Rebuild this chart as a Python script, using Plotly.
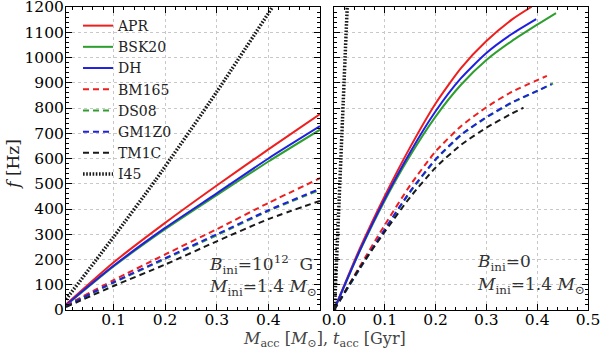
import plotly.graph_objects as go

# left panel: B_ini = 1e12 G, f vs accreted mass
m_acc = [0.008, 0.1, 0.2, 0.3, 0.4, 0.5]
left_apr = [22, 188, 345, 493, 636, 776]
left_bsk20 = [18, 172, 320, 455, 588, 714]
left_dh = [20, 175, 325, 462, 600, 728]
left_bm165 = [18, 118, 220, 320, 424, 522]
left_ds08 = [15, 108, 202, 296, 392, 476]
left_gm1z0 = [15, 110, 205, 300, 395, 480]
left_tm1c = [12, 95, 180, 272, 360, 432]
m_i45 = [0.008, 0.1, 0.182, 0.3, 0.408]
left_i45 = [42, 289, 516, 864, 1200]

# right panel: B_ini = 0, f vs accretion time
t_apr = [0, 0.05, 0.1, 0.15, 0.2, 0.25, 0.3, 0.35, 0.389]
right_apr = [0, 240, 452, 645, 818, 958, 1065, 1150, 1201]
t_dh = [0, 0.05, 0.1, 0.15, 0.2, 0.25, 0.3, 0.35, 0.398]
right_dh = [0, 232, 440, 625, 787, 918, 1018, 1093, 1152]
t_bsk20 = [0, 0.05, 0.1, 0.15, 0.2, 0.25, 0.3, 0.35, 0.4, 0.437]
right_bsk20 = [0, 230, 434, 612, 766, 892, 990, 1065, 1130, 1176]
t_bm165 = [0, 0.05, 0.1, 0.15, 0.2, 0.25, 0.3, 0.35, 0.419]
right_bm165 = [0, 170, 337, 494, 628, 728, 803, 864, 927]
t_ds08 = [0, 0.05, 0.1, 0.15, 0.2, 0.25, 0.3, 0.35, 0.4, 0.431]
right_ds08 = [0, 160, 318, 467, 594, 692, 762, 820, 867, 897]
t_gm1z0 = [0, 0.05, 0.1, 0.15, 0.2, 0.25, 0.3, 0.35, 0.4, 0.428]
right_gm1z0 = [0, 162, 320, 470, 597, 694, 764, 822, 868, 894]
t_tm1c = [0, 0.05, 0.1, 0.15, 0.2, 0.25, 0.3, 0.35, 0.373]
right_tm1c = [0, 165, 310, 447, 564, 654, 722, 778, 801]
t_i45 = [0.001, 0.0135, 0.026]
right_i45 = [0, 600, 1200]

RED, GREEN, BLUE, BLACK = "#ee1f1f", "#2e9e2e", "#2020e0", "#1a1a1a"
DASH = "6px,4px"
DOT = "1.6px,1.6px"

series = [
    ("APR", RED, "solid", 2, m_acc, left_apr, t_apr, right_apr),
    ("BSK20", GREEN, "solid", 2, m_acc, left_bsk20, t_bsk20, right_bsk20),
    ("DH", BLUE, "solid", 2, m_acc, left_dh, t_dh, right_dh),
    ("BM165", RED, DASH, 2, m_acc, left_bm165, t_bm165, right_bm165),
    ("DS08", GREEN, DASH, 2, m_acc, left_ds08, t_ds08, right_ds08),
    ("GM1Z0", BLUE, DASH, 2, m_acc, left_gm1z0, t_gm1z0, right_gm1z0),
    ("TM1C", BLACK, DASH, 2, m_acc, left_tm1c, t_tm1c, right_tm1c),
    ("I45", BLACK, DOT, 3.5, m_i45, left_i45, t_i45, right_i45),
]

fig = go.Figure()
for name, color, dash, lw, xl, yl, xr, yr in series:
    fig.add_trace(go.Scatter(x=xl, y=yl, mode="lines", name=name, line=dict(color=color, dash=dash, width=lw, shape="spline", smoothing=0.6), xaxis="x", yaxis="y"))
    fig.add_trace(go.Scatter(x=xr, y=yr, mode="lines", name=name, showlegend=False, line=dict(color=color, dash=dash, width=lw, shape="spline", smoothing=0.6), xaxis="x2", yaxis="y2"))

FONT = "DejaVu Serif"
common = dict(
    showline=True, linecolor="black", linewidth=1, mirror="allticks",
    ticks="inside", ticklen=6, tickcolor="black", tickwidth=1,
    showgrid=True, gridcolor="#c8c8c8", griddash="dot", gridwidth=1,
    zeroline=False, tickfont=dict(family=FONT, size=15.5, color="black"),
    automargin=False, ticklabeloverflow="allow",
)
xminor = dict(dtick=0.02, tick0=0, ticks="inside", ticklen=3, tickcolor="black", showgrid=False)
yaxis_common = dict(common, range=[0, 1200], tickvals=list(range(0, 1201, 100)), ticklabelstandoff=-2,
                    minor=dict(dtick=20, ticks="inside", ticklen=3, tickcolor="black", showgrid=False))

fig.update_layout(
    width=600, height=351,
    margin=dict(l=66, r=12, t=7, b=41),
    plot_bgcolor="white", paper_bgcolor="white",
    font=dict(family=FONT, color="black"),
    xaxis=dict(common, domain=[0, 0.4866], range=[0.008, 0.5], tickvals=[0.1, 0.2, 0.3, 0.4],
               ticktext=["0.1", "0.2", "0.3", "0.4"], ticklabelstandoff=-5, minor=xminor),
    xaxis2=dict(common, domain=[0.5134, 1], range=[0, 0.5], tickvals=[0, 0.1, 0.2, 0.3, 0.4, 0.5],
                ticktext=["0.0", "0.1", "0.2", "0.3", "0.4", "0.5"], ticklabelstandoff=-5, minor=xminor),
    yaxis=dict(yaxis_common, anchor="x"),
    yaxis2=dict(yaxis_common, anchor="x2", showticklabels=False),
    legend=dict(x=0.023, y=0.99, xanchor="left", yanchor="top", bgcolor="rgba(0,0,0,0)",
                font=dict(family=FONT, size=14, color="#222"), itemwidth=30, tracegroupgap=0),
    showlegend=True,
)

ann_font = dict(family=FONT, size=17, color="#333")
fig.add_annotation(x=0.281, y=182, xref="x", yref="y", xanchor="left", showarrow=False, font=ann_font,
                   text="<i>B</i><sub>ini</sub>=10<sup>12</sup>  G")
fig.add_annotation(x=0.281, y=91, xref="x", yref="y", xanchor="left", showarrow=False, font=ann_font,
                   text="<i>M</i><sub>ini</sub>=1.4 <i>M</i><sub>⊙</sub>")
fig.add_annotation(x=0.2776, y=190, xref="x2", yref="y2", xanchor="left", showarrow=False, font=ann_font,
                   text="<i>B</i><sub>ini</sub>=0")
fig.add_annotation(x=0.2776, y=99, xref="x2", yref="y2", xanchor="left", showarrow=False, font=ann_font,
                   text="<i>M</i><sub>ini</sub>=1.4 <i>M</i><sub>⊙</sub>")
# axis titles as paper annotations (paper = plot area)
fig.add_annotation(x=0.496, y=-0.097, xref="paper", yref="paper", xanchor="center", yanchor="middle",
                   showarrow=False, font=dict(family=FONT, size=16, color="#444"),
                   text="<i>M</i><sub>acc</sub> [<i>M</i><sub>⊙</sub>], <i>t</i><sub>acc</sub> [Gyr]")
fig.add_annotation(x=-0.103, y=0.48, xref="paper", yref="paper", xanchor="center", yanchor="middle",
                   showarrow=False, textangle=-90, font=dict(family=FONT, size=17, color="#222"),
                   text="<i>f</i> [Hz]")

fig.write_html("out.html", config={"displayModeBar": False},
               post_script="document.body.style.margin='0';")
